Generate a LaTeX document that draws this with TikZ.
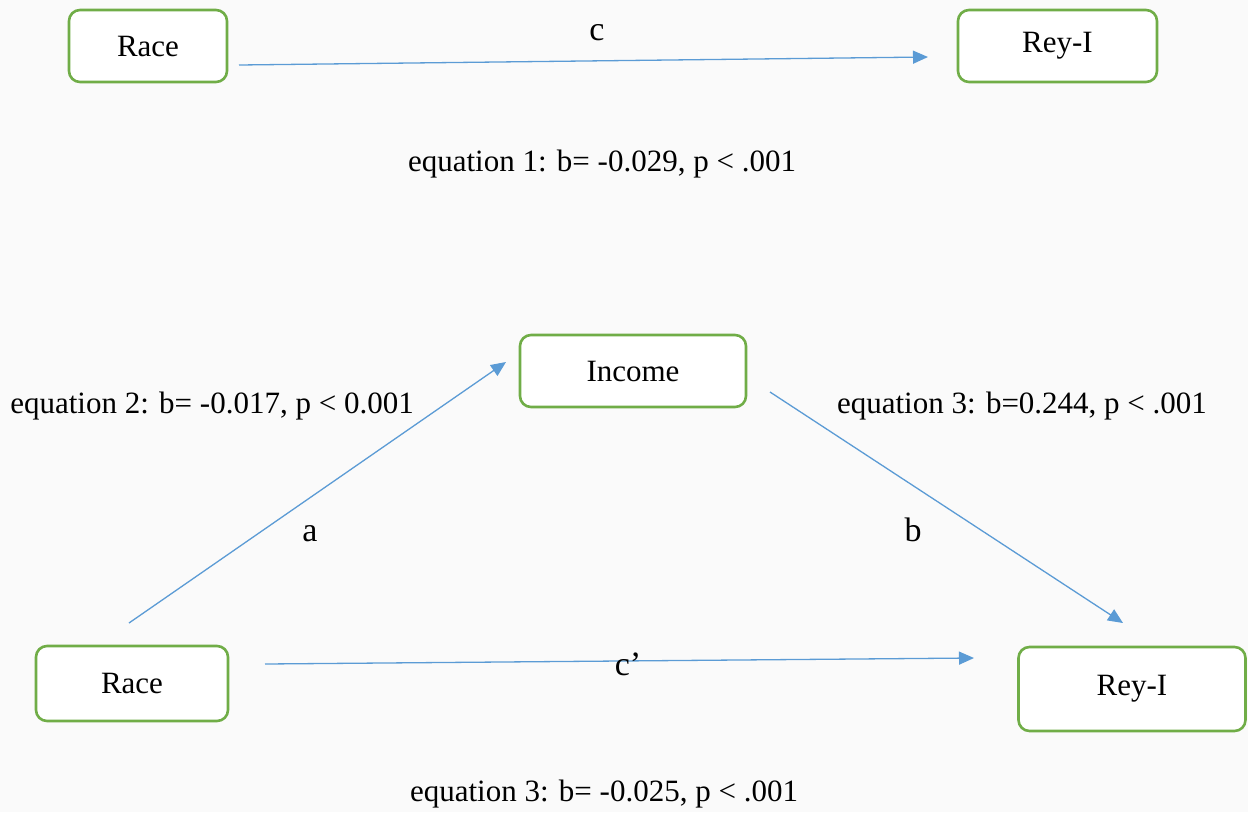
\documentclass[tikz,border=0pt]{standalone}
\usepackage{fontspec}
\setmainfont{Liberation Serif}
\usetikzlibrary{arrows.meta}
\definecolor{bgc}{HTML}{FAFAFA}
\definecolor{boxgreen}{HTML}{70AD47}
\definecolor{arrowblue}{HTML}{5B9BD5}
\tikzset{
  varbox/.style={draw=boxgreen, line width=2.6pt, rounded corners=11pt, fill=white, inner sep=0pt, font=\fontsize{31}{36}\selectfont},
  link/.style={draw=arrowblue, line width=1.3pt, -{Triangle[length=15pt,width=13pt]}},
  lbl/.style={anchor=base, inner sep=0pt, font=\fontsize{31}{36}\selectfont},
  letter/.style={anchor=base, inner sep=0pt, font=\fontsize{34}{40}\selectfont}
}
\begin{document}
\begin{tikzpicture}[x=1pt,y=-1pt]
\fill[bgc] (0,0) rectangle (1248,812);
\useasboundingbox (0,0) rectangle (1248,812);
% boxes
\node[varbox, minimum width=158pt, minimum height=72pt] (race1) at (148,46) {Race};
\node[varbox, minimum width=199pt, minimum height=72pt] (rey1) at (1057.5,46) {Rey-I};
\node[varbox, minimum width=226pt, minimum height=72pt] (income) at (633,371) {Income};
\node[varbox, minimum width=192pt, minimum height=75pt] (race2) at (132,683.5) {Race};
\node[varbox, minimum width=227pt, minimum height=84pt] (rey2) at (1132,689) {Rey-I};
% connector ends
\coordinate (cS) at (239,65);
\coordinate (cE) at (928,57);
\coordinate (aS) at (129,623);
\coordinate (aE) at (506,362);
\coordinate (bS) at (770,392);
\coordinate (bE) at (1123,623);
\coordinate (dS) at (265,664);
\coordinate (dE) at (974,658);
\draw[link] (cS) -- (cE);
\draw[link] (aS) -- (aE);
\draw[link] (bS) -- (bE);
\draw[link] (dS) -- (dE);
% labels
\node[letter] (lc) at (597,40) {c};
\node[lbl] (eq1) at (602,171) {equation 1: b= -0.029, p < .001};
\node[lbl] (eq2) at (212,413) {equation 2: b= -0.017, p < 0.001};
\node[lbl] (eq3) at (1022,413) {equation 3: b=0.244, p < .001};
\node[letter] (la) at (310,541) {a};
\node[letter] (lb) at (913,541) {b};
\node[letter] (lcp) at (628,675) {c’};
\node[lbl] (eq4) at (604,801) {equation 3: b= -0.025, p < .001};
\end{tikzpicture}
\end{document}
